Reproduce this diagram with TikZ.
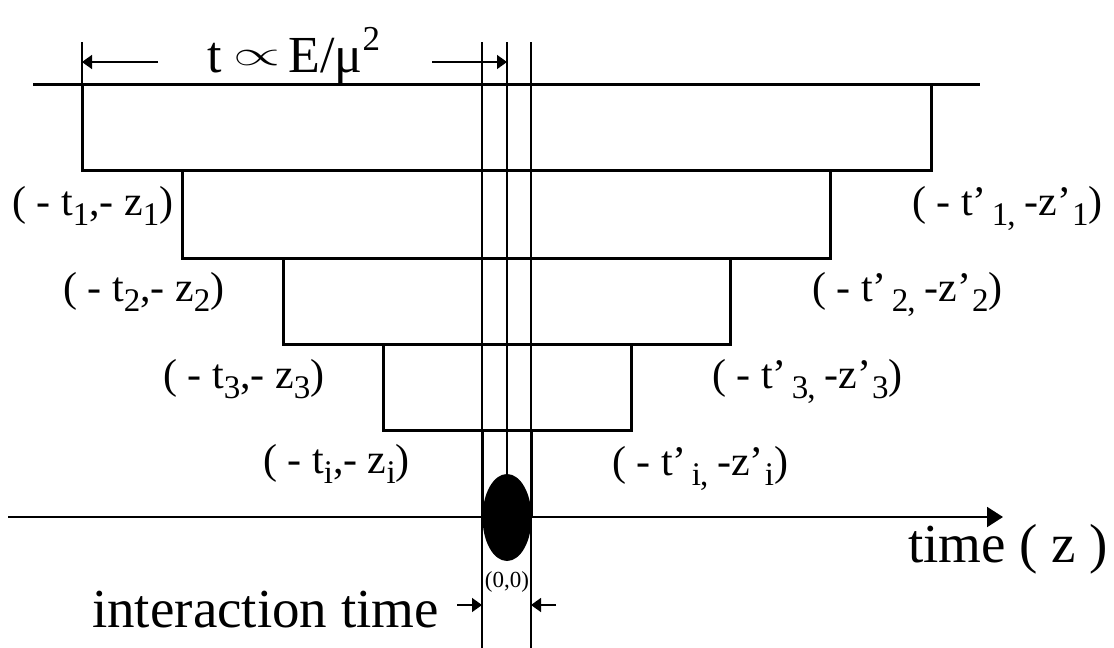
\documentclass[tikz,border=0pt]{standalone}
\usepackage{fontspec}
\setmainfont{Liberation Serif}
\usetikzlibrary{arrows.meta,shapes.geometric}
\newcommand{\lsub}[1]{\raisebox{-10pt}{\fontsize{33}{33}\selectfont #1}}
\newcommand{\rlab}[1]{( - t’\hspace{5pt}\lsub{#1\kern-1pt,}\hspace{9pt}-z’\hspace{1pt}\lsub{#1})}
\begin{document}
\begin{tikzpicture}[x=1pt,y=-1pt,
  boxline/.style={line width=3pt},
  thinline/.style={line width=1.5pt},
  axisline/.style={line width=2pt},
  dimarrow/.style={line width=1.5pt,-{Triangle[length=10pt,width=14pt]}},
  coordlabel/.style={anchor=base west,inner sep=0pt,font=\fontsize{42}{42}\selectfont},
  biglabel/.style={anchor=base west,inner sep=0pt,font=\fontsize{55}{55}\selectfont}]
\useasboundingbox (0,0) rectangle (1114,648);
% top line
\coordinate (tl) at (33,84);
\coordinate (tr) at (980,84);
\draw[boxline] (tl) -- (tr);
% step boxes
\draw[boxline] (82,84) rectangle (931,170);
\draw[boxline] (182,170) rectangle (830,258);
\draw[boxline] (283,258) rectangle (730,344);
\draw[boxline] (383,344) rectangle (631,430);
\draw[boxline] (482,430) -- (482,517);
\draw[boxline] (531,430) -- (531,517);
% thin verticals
\coordinate (v0t) at (82,42);
\coordinate (v0b) at (82,84);
\coordinate (v1t) at (482,42);
\coordinate (v1b) at (482,648);
\coordinate (v2t) at (507,42);
\coordinate (v2b) at (507,474);
\coordinate (v3t) at (531,42);
\coordinate (v3b) at (531,648);
\draw[thinline] (v0t) -- (v0b);
\draw[thinline] (v1t) -- (v1b);
\draw[thinline] (v2t) -- (v2b);
\draw[thinline] (v3t) -- (v3b);
% axis
\coordinate (axs) at (8,517);
\coordinate (axe) at (1003,517);
\draw[axisline,-{Triangle[length=16pt,width=20pt]}] (axs) -- (axe);
% interaction blob
\node[fill=black,ellipse,minimum width=49pt,minimum height=87pt,inner sep=0pt] (blob) at (507,517.5) {};
% dimension arrows on top
\coordinate (da1) at (158,62);
\coordinate (da1e) at (82,62);
\coordinate (da2) at (432,62);
\coordinate (da2e) at (507,62);
\draw[dimarrow] (da1) -- (da1e);
\draw[dimarrow] (da2) -- (da2e);
\node[biglabel,font=\fontsize{52}{52}\selectfont] (tE) at (207,72) {t\hspace{12pt}\raisebox{7pt}{\resizebox{47pt}{15pt}{$\propto$}}\hspace{8pt}E/μ\raisebox{22pt}{\fontsize{35}{35}\selectfont 2}};
% interaction time arrows
\coordinate (ia1) at (457,605);
\coordinate (ia1e) at (482,605);
\coordinate (ia2) at (556,605);
\coordinate (ia2e) at (531,605);
\draw[dimarrow] (ia1) -- (ia1e);
\draw[dimarrow] (ia2) -- (ia2e);
\node[biglabel] (it) at (92,627) {interaction time};
\node[biglabel] (tz) at (908,562) {time ( z )};
\node[anchor=base,inner sep=0pt,font=\fontsize{23}{23}\selectfont] (orig) at (507,587) {(0,0)};
% coordinate labels
\node[coordlabel] (L1) at (12,215) {( - t\lsub{1},- z\lsub{1})};
\node[coordlabel] (L2) at (63,301) {( - t\lsub{2},- z\lsub{2})};
\node[coordlabel] (L3) at (163,388) {( - t\lsub{3},- z\lsub{3})};
\node[coordlabel] (Li) at (263,473) {( - t\lsub{i},- z\lsub{i})};
\node[coordlabel] (R1) at (912,215) {\rlab{1}};
\node[coordlabel] (R2) at (812,301) {\rlab{2}};
\node[coordlabel] (R3) at (712,388) {\rlab{3}};
\node[coordlabel] (Ri) at (612,475) {\rlab{i}};
\end{tikzpicture}
\end{document}
